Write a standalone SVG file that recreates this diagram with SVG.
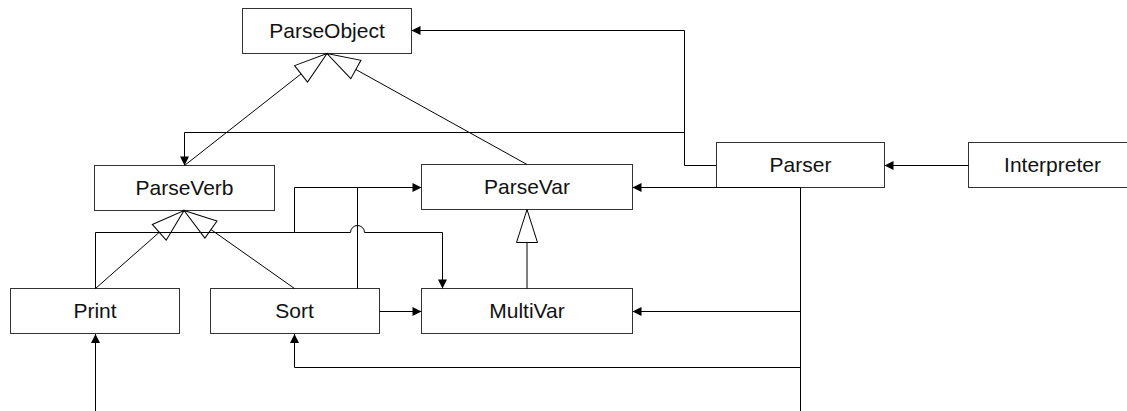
<svg xmlns="http://www.w3.org/2000/svg" width="1127" height="411" viewBox="0 0 1127 411">
  <style>
    .box { fill: #ffffff; stroke: #333333; stroke-width: 1; }
    .label { font-family: "Liberation Sans", Arial, sans-serif; font-size: 21px; fill: #111111; text-anchor: middle; }
    .gen { fill: none; stroke: #000000; stroke-width: 1; marker-end: url(#inherit); }
    .assoc { fill: none; stroke: #000000; stroke-width: 1; marker-end: url(#arrow); }
    .plain { fill: none; stroke: #000000; stroke-width: 1; }
  </style>
  <defs>
    <!-- hollow triangle for inheritance -->
    <marker id="inherit" viewBox="0 0 33 21" refX="33" refY="10.5" markerWidth="33" markerHeight="21" markerUnits="userSpaceOnUse" orient="auto" overflow="visible">
      <path d="M0,0 L33,10.5 L0,21 Z" fill="#ffffff" stroke="#000000" stroke-width="1"/>
    </marker>
    <!-- filled arrowhead for associations -->
    <marker id="arrow" viewBox="0 0 9 9" refX="9" refY="4.5" markerWidth="9" markerHeight="9" markerUnits="userSpaceOnUse" orient="auto" overflow="visible">
      <path d="M0,0 L9,4.5 L0,9 Z" fill="#000000"/>
    </marker>
  </defs>

  <rect width="1127" height="411" fill="#ffffff"/>

  <g id="node-parseobject">
    <rect class="box" x="242.5" y="8.5" width="169" height="45"/>
    <text class="label" x="327" y="38">ParseObject</text>
  </g>
  <g id="node-parseverb">
    <rect class="box" x="94.5" y="165.5" width="180" height="45"/>
    <text class="label" x="184.5" y="195">ParseVerb</text>
  </g>
  <g id="node-parsevar">
    <rect class="box" x="421.5" y="164.5" width="211" height="45"/>
    <text class="label" x="527" y="194">ParseVar</text>
  </g>
  <g id="node-parser">
    <rect class="box" x="716.5" y="142.5" width="168" height="45"/>
    <text class="label" x="800.5" y="172">Parser</text>
  </g>
  <g id="node-interpreter">
    <rect class="box" x="968.5" y="142.5" width="168" height="45"/>
    <text class="label" x="1052.5" y="172">Interpreter</text>
  </g>
  <g id="node-print">
    <rect class="box" x="10.5" y="288.5" width="169" height="45"/>
    <text class="label" x="95" y="318">Print</text>
  </g>
  <g id="node-sort">
    <rect class="box" x="210.5" y="288.5" width="169" height="45"/>
    <text class="label" x="294.5" y="318">Sort</text>
  </g>
  <g id="node-multivar">
    <rect class="box" x="421.5" y="288.5" width="211" height="45"/>
    <text class="label" x="527" y="318">MultiVar</text>
  </g>

  <g id="connectors">
    <!-- inheritance -->
    <path class="gen" d="M184.5,165.5 L327,53.5"/>
    <path class="gen" d="M527,164.5 L327,53.5"/>
    <path class="gen" d="M95.5,288.5 L184,210.5"/>
    <path class="gen" d="M294.5,288.5 L184,210.5"/>
    <path class="gen" d="M527,288.5 L527,209.5"/>

    <!-- Parser uses ParseObject and ParseVerb -->
    <path class="assoc" d="M716.5,165.5 H684.5 V30.5 H411.5"/>
    <path class="assoc" d="M684.5,132.5 H184.5 V165.5"/>
    <!-- Interpreter uses Parser -->
    <path class="assoc" d="M968.5,165.5 H884.5"/>
    <!-- incoming trunk on the right -->
    <path class="assoc" d="M800.5,411 V187.5 H632.5"/>
    <path class="assoc" d="M800.5,311.5 H632.5"/>
    <path class="assoc" d="M800.5,367.5 H294.5 V334"/>
    <!-- incoming line to Print -->
    <path class="assoc" d="M95.5,411 V334"/>
    <!-- Print uses ParseVar and MultiVar -->
    <path class="assoc" d="M95.5,288.5 V232.5 H294.5 V187.5 H421.5"/>
    <path class="assoc" d="M294.5,232.5 H350.5 A7,7 0 0 1 364.5,232.5 H442.5 V288.5"/>
    <!-- Sort uses ParseVar and MultiVar -->
    <path class="plain" d="M357.5,288.5 V187.5"/>
    <path class="assoc" d="M379.5,311.5 H421.5"/>
  </g>
</svg>
